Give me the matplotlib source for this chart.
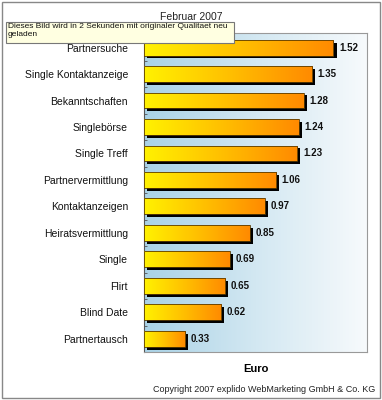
import numpy as np
import matplotlib
matplotlib.use("Agg")
from matplotlib import pyplot as plt
from matplotlib.colors import LinearSegmentedColormap
from matplotlib.patches import Rectangle

categories = ["Partnersuche", "Single Kontaktanzeige", "Bekanntschaften", "Singlebörse",
              "Single Treff", "Partnervermittlung", "Kontaktanzeigen", "Heiratsvermittlung",
              "Single", "Flirt", "Blind Date", "Partnertausch"]
values = [1.52, 1.35, 1.28, 1.24, 1.23, 1.06, 0.97, 0.85, 0.69, 0.65, 0.62, 0.33]
value_labels = ["1.52", "1.35", "1.28", "1.24", "1.23", "1.06", "0.97", "0.85",
                "0.69", "0.65", "0.62", "0.33"]

plt.rcParams['font.family'] = ['Liberation Sans', 'DejaVu Sans']

fig = plt.figure(figsize=(3.82, 4.0), dpi=100)
fig.patch.set_facecolor('white')
ax = fig.add_axes([0.377, 0.12, 0.584, 0.7975])

xmax = 1.79
ylim = (11.5, -0.55)
ax.set_xlim(0, xmax)
ax.set_ylim(*ylim)

# background gradient light blue -> white
bg_cmap = LinearSegmentedColormap.from_list('bg', ['#a9d2e6', '#d3e8f2', '#f7fafc'])
grad = np.linspace(0, 1, 256).reshape(1, -1)
ax.imshow(grad, cmap=bg_cmap, aspect='auto', extent=[0, xmax, ylim[0], ylim[1]],
          zorder=0, interpolation='bilinear')

bar_cmap = LinearSegmentedColormap.from_list('bar', ['#fff200', '#ffc000', '#ff8a00'])
ypos = np.arange(len(categories))
h = 0.6

# shadows
ax.barh(ypos + 0.11, values, height=h, left=0.025, color='black', zorder=2)
bars = ax.barh(ypos, values, height=h, color='none', edgecolor='#5a3a00',
               linewidth=0.6, zorder=4)
for b, v in zip(bars, values):
    y0 = b.get_y()
    im = ax.imshow(grad, cmap=bar_cmap, aspect='auto',
                   extent=[0, v, y0 + h, y0], zorder=3, interpolation='bilinear')
    im.set_clip_path(b)

for y, v, lab in zip(ypos, values, value_labels):
    ax.text(v + 0.045, y, lab, va='center', ha='left', fontsize=7, fontweight='bold',
            color='#111111')

ax.set_yticks(ypos)
ax.set_yticklabels(categories, fontsize=7.5, color='#111111')
ax.tick_params(axis='y', which='major', length=0, pad=11.5)
ax.set_yticks(ypos[:-1] + 0.5, minor=True)
ax.tick_params(axis='y', which='minor', direction='in', length=2.5, width=0.6, color='#555555')
ax.set_xticks([])

for s in ['top', 'right', 'bottom']:
    ax.spines[s].set_color('#999999')
    ax.spines[s].set_linewidth(0.8)
ax.spines['left'].set_color('#555555')
ax.spines['left'].set_linewidth(0.8)

ax.set_xlabel('Euro', fontsize=8, fontweight='bold', labelpad=9)

fig.text(0.5, 0.957, 'Februar 2007', ha='center', va='center', fontsize=7.5, color='#222222')
fig.text(0.982, 0.025, 'Copyright 2007 explido WebMarketing GmbH & Co. KG', ha='right',
         va='center', fontsize=6.5, color='#222222')

# outer frame
fig.add_artist(Rectangle((0.005, 0.006), 0.99, 0.989, transform=fig.transFigure,
                         fill=False, edgecolor='#888888', linewidth=1))

# tooltip box
fig.add_artist(Rectangle((6 / 382, 1 - 43 / 400), 228 / 382, 21 / 400, transform=fig.transFigure,
                         facecolor='#ffffe1', edgecolor='#777777', linewidth=0.8, zorder=10))
fig.text(8 / 382, 1 - 23.5 / 400, 'Dieses Bild wird in 2 Sekunden mit originaler Qualitaet neu\ngeladen',
         ha='left', va='top', fontsize=6.0, color='#111111', linespacing=1.15, zorder=11)

fig.savefig('out.png', dpi=100)
